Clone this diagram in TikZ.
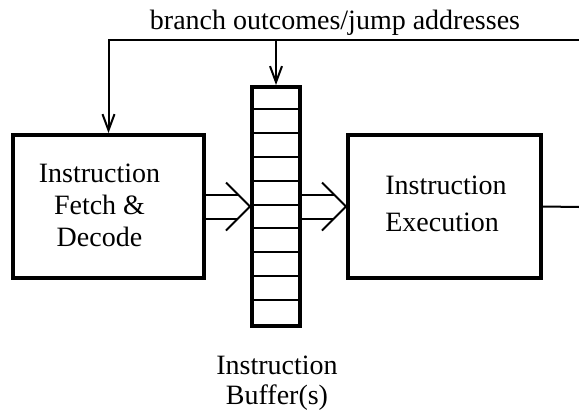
\documentclass[tikz,border=0pt]{standalone}
\usepackage{fontspec}
\setmainfont{Liberation Serif}
\usetikzlibrary{arrows.meta, calc}

\begin{document}
\begin{tikzpicture}[x=1pt, y=-1pt,
        unit/.style={draw, line width=4pt, minimum width=#1, inner sep=0pt},
        label/.style={inner sep=0pt, font=\fontsize{28}{32}\selectfont},
        wire/.style={line width=2pt},
        feed/.style={wire, -{Straight Barb[length=16pt, width=12pt, line width=2pt]}}]
        \useasboundingbox (0,0) rectangle (579,410);

        \node[unit=191pt, minimum height=143pt] (fetch) at (108.5,206.5) {};
        \node[unit=193pt, minimum height=143pt] (exec) at (444.5,206.5) {};
        \node[unit=48pt, minimum height=239pt] (buf) at (276,206.5) {};

        \node[label, align=center, anchor=north] (fetchtext) at (99.5,164) {Instruction\\Fetch \&\\Decode};
        \node[label, align=left, anchor=north, font=\fontsize{28}{37}\selectfont] (exectext) at (446,176) {Instruction\\Execution};
        \node[label, align=center, anchor=north, font=\fontsize{28}{30}\selectfont] (buftext) at (277,356) {Instruction\\Buffer(s)};
        \node[label, anchor=base] (feedtext) at (335,29.5) {branch outcomes/jump addresses};

        % buffer slots
        \foreach \k in {1,...,9}
            \draw[wire] ([yshift=-\k*23.9pt]buf.north west) -- ([yshift=-\k*23.9pt]buf.north east);

        % fetch -> buffer
        \draw[wire] ([yshift=12pt]fetch.east) -- ([xshift=-12pt, yshift=12pt]buf.west);
        \draw[wire] ([yshift=-12pt]fetch.east) -- ([xshift=-12pt, yshift=-12pt]buf.west);
        \draw[wire] ([xshift=-24pt, yshift=24pt]buf.west) -- (buf.west) -- ([xshift=-24pt, yshift=-24pt]buf.west);

        % buffer -> execution
        \draw[wire] ([yshift=12pt]buf.east) -- ([xshift=-12pt, yshift=12pt]exec.west);
        \draw[wire] ([yshift=-12pt]buf.east) -- ([xshift=-12pt, yshift=-12pt]exec.west);
        \draw[wire] ([xshift=-24pt, yshift=24pt]exec.west) -- (exec.west) -- ([xshift=-24pt, yshift=-24pt]exec.west);

        \coordinate (outend) at (579,207);
        \coordinate (ret) at (579,39.5);
        \coordinate (tap) at (buf.north |- ret);

        \draw[wire] (exec.east) -- (outend);
        \draw[feed] (ret) -| (fetch.north);
        \draw[feed] (tap) -- (buf.north);
\end{tikzpicture}
\end{document}
